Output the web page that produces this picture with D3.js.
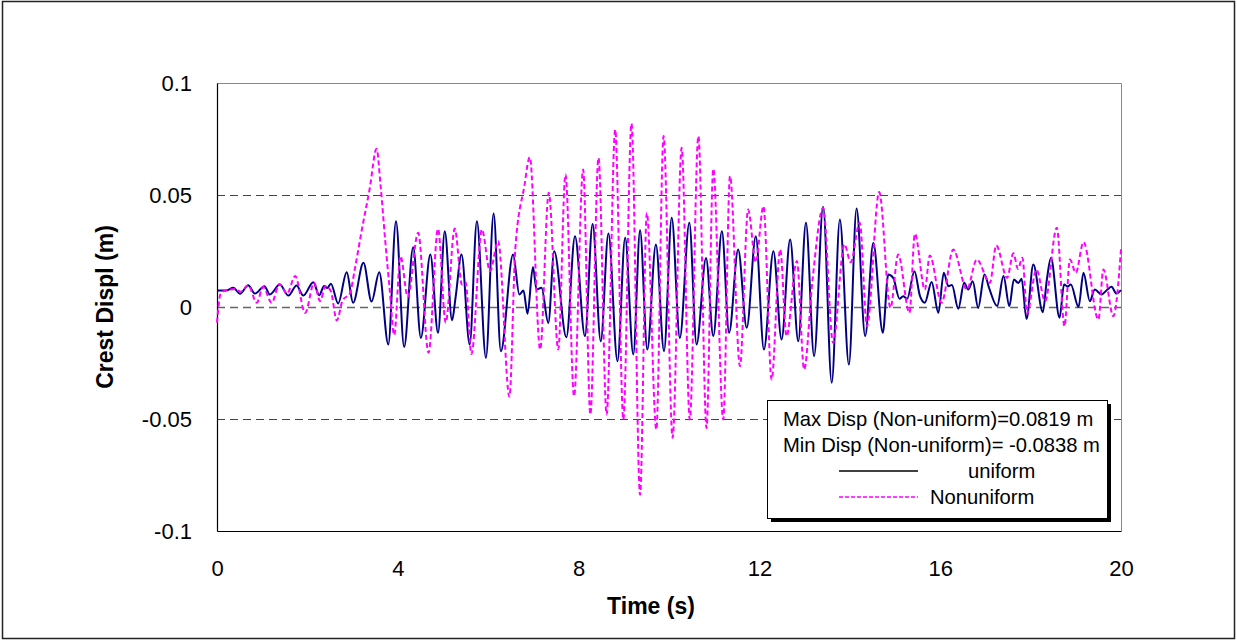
<!DOCTYPE html>
<html>
<head>
<meta charset="utf-8">
<script src="https://cdn.jsdelivr.net/npm/d3@7"></script>
<style>
  html, body { margin: 0; padding: 0; background: #fff; }
  svg { display: block; font-family: "Liberation Sans", Arial, sans-serif; }
</style>
</head>
<body>
<svg id="chart" width="1237" height="641"></svg>
<script>
// Crest displacement time histories, [time (s), displacement (m)] at each turning point
const uniform = [
  [0, 0.0074], [0.21, 0.0074], [0.36, 0.0086], [0.51, 0.0059], [0.69, 0.0097], [0.84, 0.0060],
  [1.05, 0.0093], [1.17, 0.0056], [1.39, 0.0100], [1.58, 0.0051], [1.76, 0.0096], [1.91, 0.0051],
  [2.13, 0.0111], [2.26, 0.0053], [2.37, 0.0094], [2.44, 0.0085], [2.52, 0.0104], [2.68, 0.0016],
  [2.87, 0.0155], [3.01, 0.0019], [3.24, 0.0197], [3.42, 0.0024], [3.59, 0.0155], [3.79, -0.0167],
  [3.96, 0.0383], [4.14, -0.0178], [4.34, 0.0267], [4.51, -0.0138], [4.72, 0.0234], [4.89, -0.0115],
  [5.04, 0.0338], [5.20, -0.0060], [5.28, 0.0045], [5.41, 0.0234], [5.59, -0.0167], [5.75, 0.0383],
  [5.95, -0.0227], [6.12, 0.0417], [6.28, -0.0197], [6.55, 0.0234], [6.69, 0.0056], [6.78, 0.0074],
  [6.87, -0.0030], [6.99, 0.0179], [7.07, 0.0078], [7.18, 0.0086], [7.33, -0.0071], [7.46, 0.0249],
  [7.73, -0.0135], [7.92, 0.0316], [8.14, -0.0130], [8.31, 0.0371], [8.49, -0.0153], [8.66, 0.0328],
  [8.86, -0.0242], [9.03, 0.0309], [9.21, -0.0212], [9.36, 0.0343], [9.52, -0.0190], [9.71, 0.0279],
  [9.89, -0.0197], [10.06, 0.0398], [10.24, -0.0138], [10.45, 0.0376], [10.61, -0.0167], [10.82, 0.0219],
  [10.98, -0.0130], [11.17, 0.0338], [11.33, -0.0115], [11.53, 0.0257], [11.72, -0.0093], [11.92, 0.0316],
  [12.10, -0.0190], [12.31, 0.0249], [12.49, -0.0145], [12.68, 0.0301], [12.86, -0.0153], [13.03, 0.0376],
  [13.21, -0.0219], [13.41, 0.0447], [13.60, -0.0338], [13.78, 0.0391], [13.98, -0.0257], [14.15, 0.0440],
  [14.34, -0.0130], [14.52, 0.0287], [14.73, -0.0115], [14.85, 0.0145], [14.96, 0.0130], [15.10, 0.0037],
  [15.18, 0.0048], [15.27, 0.0037], [15.43, 0.0160], [15.55, 0.0051], [15.66, 0.0019], [15.81, 0.0112],
  [15.96, -0.0026], [16.08, 0.0153], [16.18, 0.0093], [16.26, 0.0098], [16.40, -0.0008], [16.53, 0.0108],
  [16.62, 0.0078], [16.72, 0.0115], [16.84, -0.0004], [16.98, 0.0145], [17.08, 0.0086], [17.26, 0.0004],
  [17.40, 0.0138], [17.53, 0.0004], [17.63, 0.0123], [17.73, 0.0107], [17.80, 0.0126], [17.91, -0.0053],
  [18.06, 0.0190], [18.27, -0.0023], [18.36, 0.0123], [18.45, 0.0219], [18.64, -0.0048], [18.74, 0.0100],
  [18.82, 0.0092], [18.89, 0.0100], [19.06, 0.0000], [19.17, 0.0153], [19.31, 0.0026], [19.42, 0.0078],
  [19.57, 0.0056], [19.70, 0.0078], [19.79, 0.0090], [19.90, 0.0060], [20.0, 0.0075]
];

const nonuniform = [
  [0, -0.0070], [0.08, 0.0060], [0.20, 0.0075], [0.40, 0.0080], [0.52, 0.0068], [0.69, 0.0097],
  [0.88, 0.0019], [1.02, 0.0090], [1.21, 0.0019], [1.38, 0.0103], [1.55, 0.0060], [1.73, 0.0138],
  [1.95, -0.0026], [2.15, 0.0108], [2.28, 0.0026], [2.40, 0.0093], [2.52, 0.0070], [2.65, -0.0060],
  [2.78, 0.0030], [2.94, 0.0060], [3.05, 0.0170], [3.20, 0.0340], [3.38, 0.0530], [3.53, 0.0706],
  [3.62, 0.0540], [3.72, 0.0300], [3.82, 0.0080], [3.92, -0.0125], [4.06, 0.0227], [4.22, 0.0045],
  [4.45, 0.0331], [4.68, -0.0204], [4.89, 0.0349], [5.06, -0.0070], [5.26, 0.0350], [5.42, 0.0100],
  [5.50, 0.0110], [5.63, -0.0210], [5.86, 0.0346], [6.04, 0.0160], [6.22, 0.0294], [6.47, -0.0400],
  [6.60, 0.0260], [6.80, 0.0540], [6.92, 0.0669], [7.15, -0.0190], [7.34, 0.0510], [7.55, -0.0190],
  [7.71, 0.0592], [7.90, -0.0398], [8.10, 0.0614], [8.26, -0.0480], [8.44, 0.0666], [8.62, -0.0480],
  [8.81, 0.0792], [8.99, -0.0502], [9.17, 0.0819], [9.36, -0.0838], [9.51, 0.0420], [9.72, -0.0547],
  [9.88, 0.0763], [10.08, -0.0584], [10.28, 0.0711], [10.46, -0.0502], [10.65, 0.0763], [10.83, -0.0540],
  [10.98, 0.0617], [11.20, -0.0502], [11.35, 0.0584], [11.57, -0.0264], [11.75, 0.0435], [11.92, 0.0200],
  [12.09, 0.0450], [12.27, -0.0324], [12.46, 0.0257], [12.60, -0.0130], [12.83, 0.0205], [12.99, -0.0279],
  [13.17, 0.0110], [13.41, 0.0443], [13.63, -0.0160], [13.88, 0.0280], [14.02, 0.0200], [14.22, 0.0376],
  [14.38, -0.0086], [14.65, 0.0513], [14.90, -0.0004], [15.07, 0.0234], [15.32, -0.0026], [15.44, 0.0327],
  [15.66, 0.0078], [15.77, 0.0230], [16.03, 0.0019], [16.29, 0.0257], [16.59, 0.0078], [16.81, 0.0212],
  [17.10, 0.0108], [17.24, 0.0275], [17.48, 0.0130], [17.62, 0.0240], [17.72, 0.0170], [17.82, 0.0220],
  [17.92, -0.0030], [18.13, 0.0167], [18.32, 0.0026], [18.58, 0.0354], [18.75, -0.0086], [18.87, 0.0212],
  [19.00, 0.0153], [19.17, 0.0290], [19.50, -0.0056], [19.61, 0.0167], [19.83, -0.0041], [20.0, 0.0257]
];

const xTicks = [0, 4, 8, 12, 16, 20];
const yTicks = [-0.1, -0.05, 0, 0.05, 0.1];
const yTickLabels = ["-0.1", "-0.05", "0", "0.05", "0.1"];
const gridValues = [-0.05, 0, 0.05];
const seriesNames = ["uniform", "Nonuniform"];
const noteLines = ["Max Disp (Non-uniform)=0.0819 m", "Min Disp (Non-uniform)= -0.0838 m"];
const xTitle = "Time (s)";
const yTitle = "Crest Displ (m)";

const svg = d3.select("#chart");
const W = 1237, H = 641;
const plot = { left: 217, right: 1121, top: 83, bottom: 531 };

const x = d3.scaleLinear().domain([0, 20]).range([plot.left, plot.right]);
const y = d3.scaleLinear().domain([-0.1, 0.1]).range([plot.bottom, plot.top]);

// outer chart frame
svg.append("rect")
  .attr("x", 2.5).attr("y", 1.5).attr("width", W - 5).attr("height", H - 4)
  .attr("fill", "#fff").attr("stroke", "#222").attr("stroke-width", 1.5);

// dashed horizontal gridlines
svg.append("g").selectAll("line").data(gridValues).join("line")
  .attr("x1", plot.left).attr("x2", plot.right)
  .attr("y1", d => Math.round(y(d)) + 0.5).attr("y2", d => Math.round(y(d)) + 0.5)
  .attr("stroke", d => d === 0 ? "#666" : "#444")
  .attr("stroke-width", d => d === 0 ? 1.6 : 1)
  .attr("stroke-dasharray", "8,5");

// plot area border (top and right)
svg.append("path")
  .attr("d", `M${plot.left},${plot.top + 0.5}H${plot.right + 0.5}V${plot.bottom}`)
  .attr("fill", "none").attr("stroke", "#888").attr("stroke-width", 1);

// axes
const xAxis = svg.append("g")
  .attr("transform", `translate(0,${plot.bottom})`)
  .call(d3.axisBottom(x).tickValues(xTicks).tickSize(0).tickPadding(33).tickFormat(d3.format("d")));
const yAxis = svg.append("g")
  .attr("transform", `translate(${plot.left},0)`)
  .call(d3.axisLeft(y).tickValues(yTicks).tickSize(0).tickPadding(25)
    .tickFormat((d, i) => yTickLabels[i]));

[xAxis, yAxis].forEach(g => {
  g.select(".domain").attr("stroke", "#000").attr("stroke-width", 1.2);
  g.selectAll(".tick text").attr("font-size", 22).attr("fill", "#000")
    .attr("font-family", "'Liberation Sans', Arial, sans-serif");
});
xAxis.selectAll(".tick text").attr("dy", "0.55em");

// axis titles
svg.append("text")
  .attr("x", 651).attr("y", 614)
  .attr("text-anchor", "middle").attr("font-size", 23).attr("font-weight", "bold")
  .text(xTitle);
svg.append("text")
  .attr("transform", `translate(113,${(plot.top + plot.bottom) / 2}) rotate(-90)`)
  .attr("text-anchor", "middle").attr("font-size", 23).attr("font-weight", "bold")
  .text(yTitle);

// series
const line = d3.line()
  .x(d => x(d[0]))
  .y(d => y(d[1]))
  .curve(d3.curveMonotoneX);

svg.append("path").datum(uniform)
  .attr("d", line).attr("fill", "none")
  .attr("stroke", "#000080").attr("stroke-width", 2).attr("stroke-linejoin", "round");

svg.append("path").datum(nonuniform)
  .attr("d", line).attr("fill", "none")
  .attr("stroke", "#FF00FF").attr("stroke-width", 2).attr("stroke-dasharray", "5,3");

// legend box with drop shadow
const lg = { x: 767, y: 400, w: 340, h: 118 };
svg.append("rect")
  .attr("x", lg.x + 4).attr("y", lg.y + 4).attr("width", lg.w).attr("height", lg.h)
  .attr("fill", "#000");
svg.append("rect")
  .attr("x", lg.x + 0.5).attr("y", lg.y + 0.5).attr("width", lg.w).attr("height", lg.h)
  .attr("fill", "#fff").attr("stroke", "#000").attr("stroke-width", 1);

svg.append("g").selectAll("text").data(noteLines).join("text")
  .attr("x", lg.x + 16).attr("y", (d, i) => lg.y + 26 + i * 26)
  .attr("font-size", 20.2).attr("fill", "#000")
  .text(d => d);

const keys = svg.append("g").selectAll("g").data(seriesNames).join("g")
  .attr("transform", (d, i) => `translate(0,${lg.y + 71 + i * 26})`);
keys.append("line")
  .attr("x1", 839).attr("x2", 918).attr("y1", 0).attr("y2", 0)
  .attr("stroke", (d, i) => i === 0 ? "#000" : "#FF00FF")
  .attr("stroke-width", 1.5)
  .attr("stroke-dasharray", (d, i) => i === 0 ? null : "4,2");
keys.append("text")
  .attr("x", (d, i) => i === 0 ? 968 : 930).attr("y", 7)
  .attr("font-size", 20.2).attr("fill", "#000")
  .text(d => d);
</script>
</body>
</html>
